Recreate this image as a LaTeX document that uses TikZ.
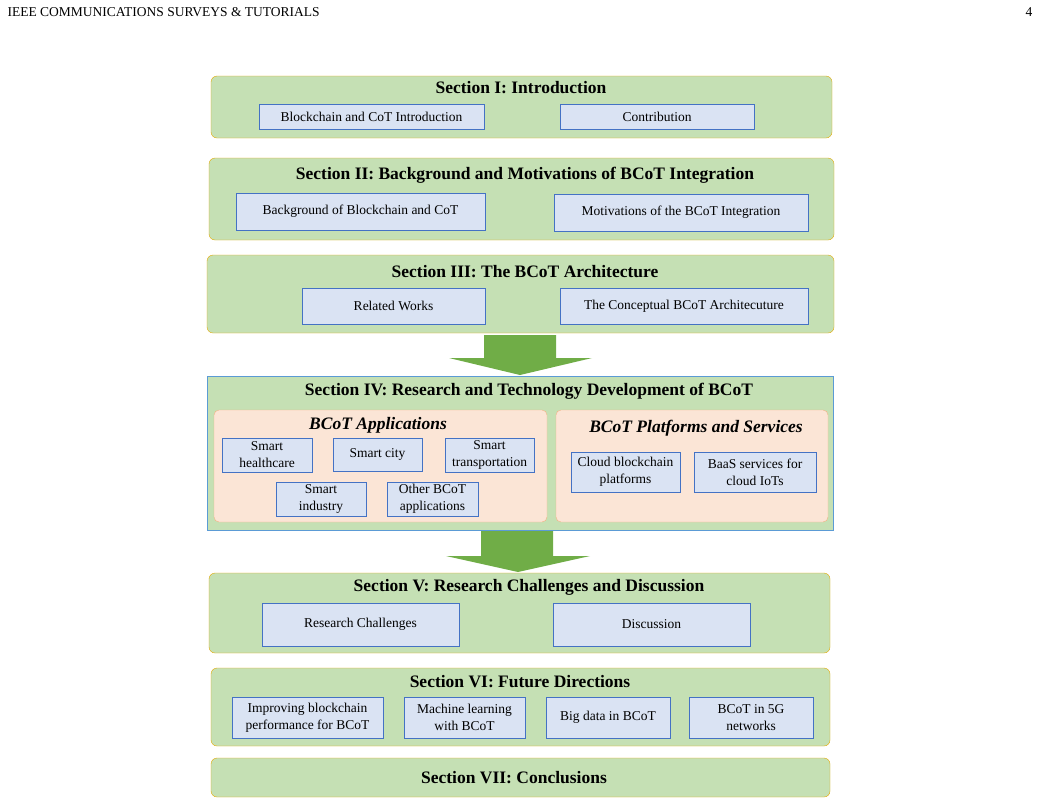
\documentclass[tikz,border=0pt]{standalone}
\usepackage{fontspec}
\setmainfont{Liberation Serif}
\definecolor{secgreen}{HTML}{C5E0B4}
\definecolor{secborder}{HTML}{E5A800}
\definecolor{subfill}{HTML}{DAE3F3}
\definecolor{subborder}{HTML}{4472C4}
\definecolor{appfill}{HTML}{FBE5D6}
\definecolor{appborder}{HTML}{F4B183}
\definecolor{arrowgreen}{HTML}{70AD47}
\definecolor{ivborder}{HTML}{5B9BD5}
\newcommand{\secbox}[5]{% name, x1, y1, x2, y2
  \node [section, minimum width=#4-#2, minimum height=#5-#3] (#1) at ({(#2+#4)/2},{(#3+#5)/2}) {};}
\newcommand{\subbox}[6]{% name, x1, y1, x2, y2, text
  \node [sub, minimum width=#4-#2, minimum height=#5-#3] (#1) at ({(#2+#4)/2},{(#3+#5)/2}) {#6};}
\begin{document}
\begin{tikzpicture}
  [
    x=1pt, y=-1pt,
    section/.style={
      draw=secborder,
      fill=secgreen,
      rounded corners=6pt,
      inner sep=0pt
    },
    sub/.style={
      draw=subborder,
      fill=subfill,
      inner sep=0pt,
      align=center,
      font=\fontsize{13.5}{17}\selectfont
    },
    title/.style={
      font=\fontsize{17.5}{20}\selectfont\bfseries
    },
    apptitle/.style={
      font=\fontsize{17.5}{20}\selectfont\bfseries\itshape
    },
    bigarrow/.style={
      fill=arrowgreen
    }
  ]
  \useasboundingbox (0,0) rectangle (1041,804);

  % header
  \node [anchor=west, font=\fontsize{13.5}{15}\selectfont] (header) at (4,12) {IEEE COMMUNICATIONS SURVEYS \& TUTORIALS};
  \node [anchor=east, font=\fontsize{13.5}{15}\selectfont] (page) at (1036,12) {4};

  % section I
  \secbox{s1}{211}{76}{832}{138}
  \node [title] (s1t) at (521,88) {Section I: Introduction};
  \subbox{s1a}{259}{104}{484}{129}{Blockchain and CoT Introduction}
  \subbox{s1b}{560}{104}{754}{129}{Contribution}

  % section II
  \secbox{s2}{209}{158}{834}{240}
  \node [title] (s2t) at (525,175) {Section II: Background and Motivations of BCoT Integration};
  \subbox{s2a}{236}{193}{485}{230}{Background of Blockchain and CoT}
  \subbox{s2b}{554}{194}{808}{231}{Motivations of the BCoT Integration}

  % section III
  \secbox{s3}{207}{255}{834}{333}
  \node [title] (s3t) at (525,272) {Section III: The BCoT Architecture};
  \subbox{s3a}{302}{288}{485}{324}{Related Works}
  \subbox{s3b}{560}{288}{808}{324}{The Conceptual BCoT Architecuture}

  % arrow
  \fill [bigarrow] (484,335) -- (556,335) -- (556,358) -- (592,358) -- (520,375)
    -- (449,358) -- (484,358) -- cycle;

  % section IV
  \node [draw=ivborder, fill=secgreen, minimum width=626, minimum height=154, inner sep=0pt] (s4) at (520,453) {};
  \node [title] (s4t) at (529,391) {Section IV: Research and Technology Development of BCoT};
  \node [draw=appborder, fill=appfill, rounded corners=5pt, minimum width=333, minimum height=112, inner sep=0pt] (apps) at (380.5,466) {};
  \node [apptitle] (appst) at (378,425) {BCoT Applications};
  \subbox{a1}{222}{438}{312}{472}{Smart\\healthcare}
  \subbox{a2}{333}{438}{422}{471}{Smart city}
  \subbox{a3}{445}{438}{534}{472}{Smart\\transportation}
  \subbox{a4}{276}{482}{366}{516}{Smart\\industry}
  \subbox{a5}{387}{482}{478}{516}{Other BCoT\\applications}
  \node [draw=appborder, fill=appfill, rounded corners=5pt, minimum width=272, minimum height=112, inner sep=0pt] (plat) at (692,466) {};
  \node [apptitle] (platt) at (696,428) {BCoT Platforms and Services};
  \subbox{p1}{571}{452}{680}{492}{Cloud blockchain\\platforms}
  \subbox{p2}{694}{452}{816}{492}{BaaS services for\\cloud IoTs}

  % arrow
  \fill [bigarrow] (481,531) -- (553,531) -- (553,556) -- (590,556) -- (518,572)
    -- (446,556) -- (481,556) -- cycle;

  % section V
  \secbox{s5}{209}{573}{830}{653}
  \node [title] (s5t) at (529,587) {Section V: Research Challenges and Discussion};
  \subbox{s5a}{262}{603}{459}{646}{Research Challenges}
  \subbox{s5b}{553}{603}{750}{646}{Discussion}

  % section VI
  \secbox{s6}{211}{668}{830}{746}
  \node [title] (s6t) at (520,682) {Section VI: Future Directions};
  \subbox{s6a}{232}{697}{383}{738}{Improving blockchain\\performance for BCoT}
  \subbox{s6b}{404}{697}{525}{738}{Machine learning\\with BCoT}
  \subbox{s6c}{546}{697}{670}{738}{Big data in BCoT}
  \subbox{s6d}{689}{697}{813}{738}{BCoT in 5G\\networks}

  % section VII
  \secbox{s7}{211}{758}{830}{797}
  \node [title] (s7t) at (514,778) {Section VII: Conclusions};
\end{tikzpicture}
\end{document}
